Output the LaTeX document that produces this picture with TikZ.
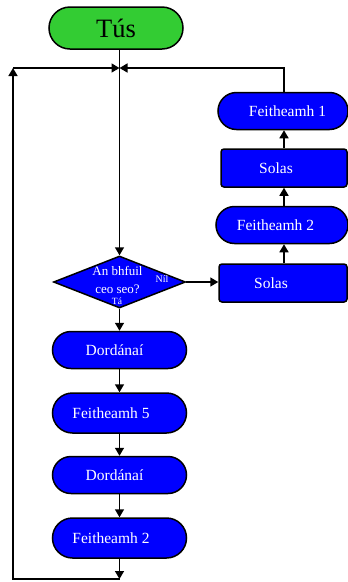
\documentclass[tikz,border=0pt]{standalone}
\usepackage{fontspec}
\setmainfont{Liberation Serif}
\usetikzlibrary{arrows.meta,shapes.geometric,shapes.misc}

\newcommand{\offtext}[2]{\hspace*{#1pt}#2}

\begin{document}
\begin{tikzpicture}[x=1pt,y=-1pt,
	arr/.style={line width=1.6pt,-{Triangle[length=8pt,width=9pt]}},
	pill/.style={rounded rectangle,draw,line width=1.5pt,fill=blue,text=white,font=\fontsize{15.5}{18}\selectfont,minimum width=134pt,minimum height=38pt,inner sep=0pt},
	solbox/.style={rectangle,rounded corners=3pt,draw,line width=1.5pt,fill=blue,text=white,font=\fontsize{15.5}{18}\selectfont,minimum width=126pt,minimum height=38pt,inner sep=0pt}]
	\useasboundingbox (0,0) rectangle (348,582);

	\node[pill,fill={rgb,255:red,51;green,204;blue,51},text=black,font=\fontsize{26.5}{30}\selectfont,minimum height=42pt] (tus) at (116,28) {Tús};

	\node[diamond,draw,line width=1.5pt,fill=blue,minimum width=132pt,minimum height=52pt,inner sep=0pt] (dia) at (119.5,282) {};
	\node[text=white,align=center,font=\fontsize{13}{18}\selectfont] (q) at (117.5,280) {An bhfuil\\ceo seo?};
	\node[text=white,font=\fontsize{10}{12}\selectfont] (nil) at (162,279) {Níl};
	\node[text=white,font=\fontsize{9.5}{11}\selectfont] (ta) at (117,301.5) {Tá};

	\node[pill,minimum height=37pt] (dord1) at (119.5,350) {\offtext{-10}{Dordánaí}};
	\node[pill,minimum height=40pt] (feit5) at (119.5,413) {\offtext{-17}{Feitheamh 5}};
	\node[pill,minimum height=37pt] (dord2) at (119.5,475) {\offtext{-10}{Dordánaí}};
	\node[pill,minimum height=40pt] (feit2) at (119.5,538) {\offtext{-17}{Feitheamh 2}};

	\node[pill,minimum width=130pt,minimum height=37pt] (feit1) at (283,111) {\offtext{9}{Feitheamh 1}};
	\node[solbox] (sol1) at (284,168) {\offtext{-16}{Solas}};
	\node[pill,minimum width=132pt,minimum height=37pt] (feit2r) at (282,225) {\offtext{-13}{Feitheamh 2}};
	\node[solbox,minimum width=128pt] (sol2) at (283,283) {\offtext{-24}{Solas}};

	\coordinate (join) at (119.5,68);
	\coordinate (topleft) at (13,68);
	\coordinate (bot) at (119.5,579);
	\coordinate (corner) at (13,579);

	\draw[arr] (tus.south -| join) -- (dia.north);
	\draw[arr] (feit1.north -| sol1.north) -- (sol1.north |- join) -- (join);
	\draw[arr] (feit2.south) -- (bot);
	\draw[arr] (bot) -- (corner) -- (topleft);
	\draw[arr] (topleft) -- (join);

	\draw[arr] (dia.south) -- (dord1.north);
	\draw[arr] (dord1.south) -- (feit5.north);
	\draw[arr] (feit5.south) -- (dord2.north);
	\draw[arr] (dord2.south) -- (feit2.north);

	\draw[arr] (dia.east) -- (dia.east -| sol2.west);
	\draw[arr] (sol2.north -| sol1.south) -- (feit2r.south -| sol1.south);
	\draw[arr] (feit2r.north -| sol1.south) -- (sol1.south);
	\draw[arr] (sol1.north) -- (feit1.south -| sol1.north);
\end{tikzpicture}
\end{document}
